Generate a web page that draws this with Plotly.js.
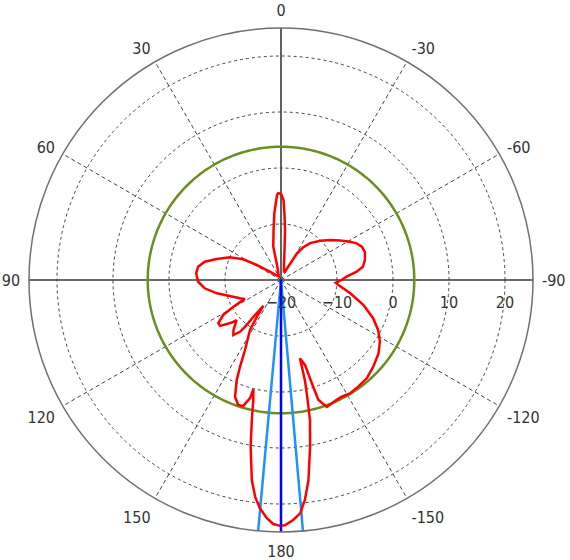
<!DOCTYPE html>
<html>
<head>
<meta charset="utf-8">
<script src="https://cdn.plot.ly/plotly-3.0.1.min.js"></script>
<style>html,body{margin:0;padding:0;background:#fff;}#chart{width:570px;height:560px;}</style>
</head>
<body>
<div id="chart"></div>
<script>
// Angular ticks (degrees, 0 at top, counter-clockwise)
const angleTicks = [0, 30, 60, 90, 120, 150, 180, 210, 240, 270, 300, 330];
const angleLabels = ['0', '30', '60', '90', '120', '150', '180', '-150', '-120', '-90', '-60', '-30'];
// Radial ticks (dB)
const radialTicks = [-20, -10, 0, 10, 20];
const radialRange = [-20, 25];

// Radiation pattern: angle (deg) and gain (dB)
const patternTheta = [0, 1.8, 2.7, 4, 5.7, 8.5, 13.1, 14.9, 20, 30, 40, 48, 53, 58.3, 61.2, 66, 71.9, 76.5, 80.9, 85.5,
  91.2, 96.2, 101.7, 107.4, 114, 117.5, 119.5, 121.2, 124.6, 127, 130.9, 132.1, 136.4, 139.1, 141.6, 142.4, 143.2,
  145.8, 146.6, 148.2, 152.8, 154.7, 156.1, 158.5, 161.1, 163.3, 165.3, 165.8, 167, 168.2, 169.7, 171.7, 173.2,
  174.7, 176.6, 178.2, 179.8, 180.9, 182.9, 184.7, 186.2, 187.8, 189.9, 191.7, 192.8, 193.4, 193.6, 195.8, 196.6,
  197.3, 199.8, 204.9, 207.5, 211.3, 215.9, 221.1, 226.8, 233, 238.1, 242.8, 247.5, 253.1, 259.1, 265, 267, 270,
  272.9, 276.3, 279.2, 283.4, 288.6, 292.4, 295.9, 299, 303.7, 309.2, 315, 321.7, 326, 329, 331, 336, 342, 348.7,
  353.3, 355.4, 356.9, 358.2, 360];
const patternGain = [-4.6, -4.5, -4.8, -6.4, -8.0, -11.0, -13.9, -17.2, -18.6, -19.2, -19.0, -18.5, -17.5, -14.9, -12.3,
  -10.0, -7.9, -6.0, -5.0, -4.8,
  -5.2, -6.3, -8.3, -10.4, -12.0, -12.7, -10.1, -7.9, -6.4, -6.4, -8.4, -9.3, -7.7, -7.0, -8.2, -9.5, -11.8,
  -14.4, -12.4, -9.5, -5.9, -2.9, -0.5, 2.4, 3.6, 3.5, 1.8, 0.1, 2.0, 5.5, 10.3, 16.1, 19.0,
  20.9, 22.6, 23.6, 23.9, 23.8, 22.9, 21.8, 19.5, 16.1, 10.2, 5.5, 0.8, -1.6, -5.6, -4.2, -0.8,
  2.4, 4.1, 3.6, 3.5, 3.7, 3.5, 3.3, 2.6, 1.8, 0.8, -0.5, -2.2, -4.6, -7.4, -9.7, -10.2, -9.2,
  -8.3, -6.4, -5.2, -4.6, -4.2, -4.4, -5.0, -5.9, -7.3, -8.7, -10.1, -11.6, -13.0, -14.5, -17.0, -18.5, -18.3, -17.3,
  -14.6, -11.0, -8.4, -5.7, -4.6];

// Reference level circle (dB), main beam direction and -3 dB beam edges (deg)
const refLevel = 3.8;
const beamDir = 180;
const beamEdges = [174.8, 185.0];
// Solid axis directions and dashed spoke directions (deg)
const axisDirs = [0, 90, 180, 270];
const spokeDirs = [30, 60, 120, 150, 210, 240, 300, 330];

const rLo = radialRange[0], rHi = radialRange[1];
const circleTheta = [];
for (let a = 0; a <= 360; a += 1) circleTheta.push(a);

function spokes(dirs) {
  const r = [], t = [];
  dirs.forEach(d => { r.push(rLo, rHi, null); t.push(d, d, null); });
  return {r, t};
}
const solid = spokes(axisDirs);
const dashed = spokes(spokeDirs);

const traces = [
  // dashed angular grid spokes
  {type: 'scatterpolar', mode: 'lines', r: dashed.r, theta: dashed.t, connectgaps: false,
   line: {color: '#444444', width: 1, dash: '4px,3px'}, hoverinfo: 'skip'},
  // solid cross axes
  {type: 'scatterpolar', mode: 'lines', r: solid.r, theta: solid.t, connectgaps: false,
   line: {color: '#3a3a3a', width: 1.6, dash: 'solid'}, hoverinfo: 'skip'},
  // reference level
  {type: 'scatterpolar', mode: 'lines', r: circleTheta.map(() => refLevel), theta: circleTheta,
   line: {color: '#6b8e23', width: 2.5}, hoverinfo: 'skip'},
  // beam edges
  {type: 'scatterpolar', mode: 'lines', r: [rHi, rLo, rHi], theta: [beamEdges[0], beamEdges[0], beamEdges[1]],
   line: {color: '#1e90ff', width: 2.5}, hoverinfo: 'skip'},
  // pattern
  {type: 'scatterpolar', mode: 'lines', r: patternGain, theta: patternTheta,
   line: {color: '#ff0000', width: 2.5}},
  // beam direction
  {type: 'scatterpolar', mode: 'lines', r: [rLo, rHi], theta: [beamDir, beamDir],
   line: {color: '#0000ff', width: 2.5}, hoverinfo: 'skip'}
];

const fontFam = 'DejaVu Sans Condensed, DejaVu Sans, sans-serif';
const layout = {
  width: 570, height: 560,
  margin: {l: 29, r: 37, t: 28, b: 28},
  showlegend: false,
  paper_bgcolor: '#ffffff',
  font: {family: fontFam, size: 16, color: '#333333'},
  polar: {
    bgcolor: '#ffffff',
    domain: {x: [0, 1], y: [0, 1]},
    angularaxis: {
      rotation: 90, direction: 'counterclockwise',
      tickmode: 'array', tickvals: angleTicks, ticktext: angleLabels,
      showline: true, linecolor: '#707070', linewidth: 1.5,
      showgrid: false,
      ticks: 'outside', ticklen: 5, tickcolor: 'rgba(0,0,0,0)',
      tickfont: {family: fontFam, size: 16, color: '#333333'}
    },
    radialaxis: {
      range: radialRange, angle: 0, tickangle: 0, side: 'clockwise',
      tickmode: 'array', tickvals: radialTicks,
      showline: false, ticks: 'outside', ticklen: 8, tickcolor: 'rgba(0,0,0,0)',
      showgrid: true, gridcolor: '#444444', gridwidth: 1, griddash: '3px,3px',
      tickfont: {family: fontFam, size: 16, color: '#333333'}
    }
  }
};

Plotly.newPlot('chart', traces, layout, {staticPlot: true});
</script>
</body>
</html>
